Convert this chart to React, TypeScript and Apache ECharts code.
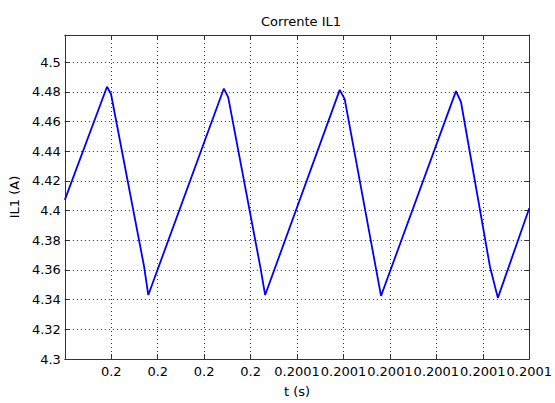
import React, { useEffect, useRef } from "react";
import * as echarts from "echarts";

// time in microseconds after t = 0.2 s
const tMicro = [0, 9.08, 9.94, 17.06, 17.97, 34.24, 35.18, 42.07, 43.13, 59.19, 60.26, 66.91, 68.08, 84.22, 85.29, 91.53, 93.24, 100];
const il1 = [4.4073, 4.4835, 4.4786, 4.3624, 4.3431, 4.4823, 4.4764, 4.3624, 4.3431, 4.4814, 4.4752, 4.3624, 4.3425, 4.4806, 4.4734, 4.3624, 4.3412, 4.4016];
const xTickValues = [0, 10, 20, 30, 40, 50, 60, 70, 80, 90, 100];
const xTickLabels = ["", "0.2", "0.2", "0.2", "0.2", "0.2001", "0.2001", "0.2001", "0.2001", "0.2001", "0.2001"];
const yTickLabels = ["4.3", "4.32", "4.34", "4.36", "4.38", "4.4", "4.42", "4.44", "4.46", "4.48", "4.5"];

const FONT = "DejaVu Sans";
const AXIS_COLOR = "#333333";

export default function App() {
  const ref = useRef<HTMLDivElement>(null);
  useEffect(() => {
    if (!ref.current) return;
    const chart = echarts.init(ref.current, null, { renderer: "svg" });
    const xLabel = (v: number) => {
      const i = xTickValues.findIndex((t) => Math.abs(t - v) < 1e-6);
      return i >= 0 ? xTickLabels[i] : "";
    };
    const yLabel = (v: number) => {
      const i = Math.round((v - 4.3) / 0.02);
      return Math.abs(4.3 + i * 0.02 - v) < 1e-6 && i >= 0 && i < yTickLabels.length ? yTickLabels[i] : "";
    };
    const gridLine = { show: true, lineStyle: { color: "#333", width: 1, type: [1, 3] as any } };
    chart.setOption({
      animation: false,
      backgroundColor: "#ffffff",
      title: {
        text: "Corrente IL1",
        left: 296,
        textAlign: "center",
        top: 10,
        textStyle: { fontFamily: FONT, fontSize: 13, fontWeight: "normal", color: "#000" },
      },
      grid: { left: 63, right: 23.5, top: 35, bottom: 39, containLabel: false },
      xAxis: [
        {
          type: "value",
          min: 0,
          max: 100,
          interval: 10,
          name: "t (s)",
          nameLocation: "middle",
          nameGap: 26,
          nameTextStyle: { fontFamily: FONT, fontSize: 13, color: "#000" },
          axisLine: { show: true, onZero: false, lineStyle: { color: AXIS_COLOR, width: 1 } },
          axisTick: { show: true, inside: true, length: 5, lineStyle: { color: AXIS_COLOR } },
          axisLabel: { formatter: xLabel, fontFamily: FONT, fontSize: 13, color: "#000", margin: 6, showMinLabel: true, showMaxLabel: true },
          splitLine: gridLine,
        },
        {
          type: "value",
          position: "top",
          min: 0,
          max: 100,
          interval: 10,
          axisLine: { show: true, onZero: false, lineStyle: { color: AXIS_COLOR, width: 1 } },
          axisTick: { show: true, inside: true, length: 5, lineStyle: { color: AXIS_COLOR } },
          axisLabel: { show: false },
          splitLine: { show: false },
        },
      ],
      yAxis: [
        {
          type: "value",
          min: 4.3,
          max: 4.5184,
          interval: 0.02,
          name: "IL1 (A)",
          nameLocation: "middle",
          nameGap: 42,
          nameTextStyle: { fontFamily: FONT, fontSize: 13, color: "#000" },
          axisLine: { show: true, onZero: false, lineStyle: { color: AXIS_COLOR, width: 1 } },
          axisTick: { show: true, inside: true, length: 5, lineStyle: { color: AXIS_COLOR } },
          axisLabel: { formatter: yLabel, fontFamily: FONT, fontSize: 13, color: "#000", margin: 4, showMaxLabel: false },
          splitLine: gridLine,
        },
        {
          type: "value",
          position: "right",
          min: 4.3,
          max: 4.5184,
          interval: 0.02,
          axisLine: { show: true, onZero: false, lineStyle: { color: AXIS_COLOR, width: 1 } },
          axisTick: { show: true, inside: true, length: 5, lineStyle: { color: AXIS_COLOR } },
          axisLabel: { show: false },
          splitLine: { show: false },
        },
      ],
      series: [
        {
          type: "line",
          xAxisIndex: 0,
          yAxisIndex: 0,
          data: tMicro.map((t, i) => [t, il1[i]]),
          showSymbol: false,
          symbol: "none",
          lineStyle: { color: "#0000ff", width: 1.8 },
          itemStyle: { color: "#0000ff" },
        },
      ],
    });
    return () => chart.dispose();
  }, []);
  return <div ref={ref} style={{ position: "fixed", left: 0, top: 0, width: 555, height: 403 }} />;
}
